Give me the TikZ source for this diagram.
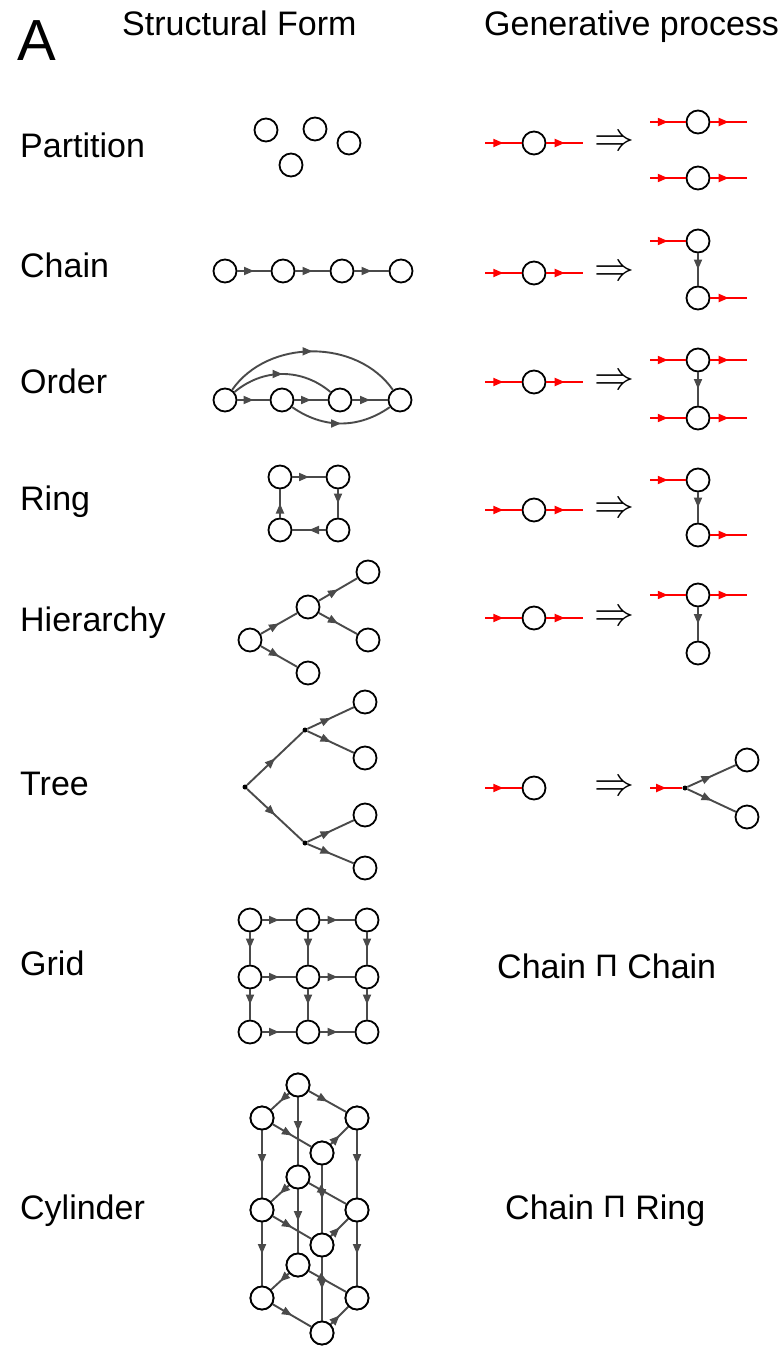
\RequirePackage{fix-cm}
\documentclass[tikz,border=0pt]{standalone}
\usepackage{fontspec}
\setmainfont{Liberation Sans}
\usetikzlibrary{decorations.markings,arrows.meta}
\definecolor{edgegray}{HTML}{4A4A4A}
\begin{document}
\begin{tikzpicture}[x=1pt,y=-1pt,
  nd/.style={circle,draw=black,line width=1.8pt,minimum size=23pt,inner sep=0pt,fill=white},
  dt/.style={circle,fill=black,minimum size=5pt,inner sep=0pt},
  midarr/.style={postaction={decorate},decoration={markings,mark=at position #1 with {\arrow{Triangle[length=10pt,width=8pt]}}}},
  midarr/.default=0.5,
  ed/.style={draw=edgegray,line width=1.9pt,midarr},
  rl/.style={draw=red,line width=1.9pt,midarr},
  lbl/.style={anchor=base west,inner sep=0pt,font=\fontsize{34}{40}\selectfont},
  impl/.style={inner sep=0pt,font=\fontsize{40}{44}\selectfont},
]
\useasboundingbox (0,0) rectangle (782,1346);

% headers
\node[anchor=base west,inner sep=0pt,font=\fontsize{58}{64}\selectfont] (A) at (17,60) {A};
\node[lbl] (hSF) at (122,36) {Structural Form};
\node[lbl] (hGP) at (484,36) {Generative process};

% row labels
\node[lbl] (lPart) at (20,157) {Partition};
\node[lbl] (lChain) at (20,277) {Chain};
\node[lbl] (lOrder) at (20,393) {Order};
\node[lbl] (lRing) at (20,510) {Ring};
\node[lbl] (lHier) at (20,631) {Hierarchy};
\node[lbl] (lTree) at (20,795) {Tree};
\node[lbl] (lGrid) at (20,975) {Grid};
\node[lbl] (lCyl) at (20,1219) {Cylinder};

% ---------- Partition
\node[nd] (p1) at (266,130) {};
\node[nd] (p2) at (315,129) {};
\node[nd] (p3) at (349,143) {};
\node[nd] (p4) at (291,165) {};

% ---------- Chain
\node[nd] (c1) at (225,271) {};
\node[nd] (c2) at (283,271) {};
\node[nd] (c3) at (342,271) {};
\node[nd] (c4) at (401,271) {};
\draw[ed] (c1) -- (c2);
\draw[ed] (c2) -- (c3);
\draw[ed] (c3) -- (c4);

% ---------- Order
\node[nd] (o1) at (225,400) {};
\node[nd] (o2) at (282,400) {};
\node[nd] (o3) at (340,400) {};
\node[nd] (o4) at (400,400) {};
\draw[ed] (o1) -- (o2);
\draw[ed] (o2) -- (o3);
\draw[ed] (o3) -- (o4);
\draw[ed] (o1) to[out=55,in=125] (o4);
\draw[ed] (o1) to[out=40,in=140] (o3);
\draw[ed] (o2) to[out=-35,in=-145] (o4);

% ---------- Ring
\node[nd] (r1) at (280,477) {};
\node[nd] (r2) at (338,477) {};
\node[nd] (r3) at (338,530) {};
\node[nd] (r4) at (280,530) {};
\draw[ed] (r1) -- (r2);
\draw[ed] (r2) -- (r3);
\draw[ed] (r3) -- (r4);
\draw[ed] (r4) -- (r1);

% ---------- Hierarchy
\node[nd] (h1) at (250,640) {};
\node[nd] (h2) at (308,607) {};
\node[nd] (h3) at (368,572) {};
\node[nd] (h4) at (368,640) {};
\node[nd] (h5) at (308,673) {};
\draw[ed] (h1) -- (h2);
\draw[ed] (h2) -- (h3);
\draw[ed] (h2) -- (h4);
\draw[ed] (h1) -- (h5);

% ---------- Tree
\node[dt] (t0) at (245,787) {};
\node[dt] (t1) at (305,730) {};
\node[dt] (t2) at (305,843) {};
\node[nd] (t3) at (365,702) {};
\node[nd] (t4) at (365,758) {};
\node[nd] (t5) at (365,815) {};
\node[nd] (t6) at (365,868) {};
\draw[ed] (t0) -- (t1);
\draw[ed] (t0) -- (t2);
\draw[ed] (t1) -- (t3);
\draw[ed] (t1) -- (t4);
\draw[ed] (t2) -- (t5);
\draw[ed] (t2) -- (t6);

% ---------- Grid
\foreach \c/\x in {1/250,2/308,3/367}{
  \foreach \r/\y in {1/920,2/977,3/1032}{
    \node[nd] (g\r\c) at (\x,\y) {};
  }
}
\foreach \r in {1,2,3}{
  \draw[ed] (g\r1) -- (g\r2);
  \draw[ed] (g\r2) -- (g\r3);
}
\foreach \c in {1,2,3}{
  \draw[ed] (g1\c) -- (g2\c);
  \draw[ed] (g2\c) -- (g3\c);
}

% ---------- Cylinder
\foreach \k/\dy in {1/0,2/92,3/180}{
  \node[nd] (yb\k) at (298,1085+\dy) {};
  \node[nd] (yl\k) at (262,1118+\dy) {};
  \node[nd] (yr\k) at (357,1118+\dy) {};
  \node[nd] (yf\k) at (322,1153+\dy) {};
}
\foreach \k in {1,2,3}{
  \draw[ed] (yb\k) -- (yl\k);
  \draw[ed] (yb\k) -- (yr\k);
  \draw[ed] (yl\k) -- (yf\k);
  \draw[ed] (yf\k) -- (yr\k);
}
\foreach \a/\b in {1/2,2/3}{
  \draw[ed] (yb\a) -- (yb\b);
  \draw[ed] (yl\a) -- (yl\b);
  \draw[ed] (yr\a) -- (yr\b);
  \draw[ed] (yf\a) -- (yf\b);
}
% redraw nodes on top
\foreach \k/\dy in {1/0,2/92,3/180}{
  \node[nd] at (yb\k) {};
  \node[nd] at (yl\k) {};
  \node[nd] at (yr\k) {};
  \node[nd] at (yf\k) {};
}

% ---------- Generative process
\foreach \n/\y in {1/143,2/273,3/382,4/510,5/618}{
  \coordinate (Lin\n) at (485,\y);
  \node[nd] (L\n) at (534,\y) {};
  \coordinate (Lout\n) at (583,\y);
  \draw[rl] (Lin\n) -- (L\n);
  \draw[rl] (L\n) -- (Lout\n);
  \node[impl] (I\n) at (614,\y) {$\Rightarrow$};
}
% Partition right
\node[nd] (PA) at (698,122) {};
\node[nd] (PB) at (698,178) {};
\coordinate (PAi) at (650,122); \coordinate (PAo) at (747,122);
\coordinate (PBi) at (650,178); \coordinate (PBo) at (747,178);
\draw[rl] (PAi) -- (PA); \draw[rl] (PA) -- (PAo);
\draw[rl] (PBi) -- (PB); \draw[rl] (PB) -- (PBo);

% Chain right
\node[nd] (CA) at (698,241) {};
\node[nd] (CB) at (698,298) {};
\coordinate (CAi) at (650,241); \coordinate (CBo) at (747,298);
\draw[ed] (CA) -- (CB);
\draw[rl] (CAi) -- (CA); \draw[rl] (CB) -- (CBo);

% Order right
\node[nd] (OA) at (698,360) {};
\node[nd] (OB) at (698,418) {};
\coordinate (OAi) at (650,360); \coordinate (OAo) at (747,360);
\coordinate (OBi) at (650,418); \coordinate (OBo) at (747,418);
\draw[ed] (OA) -- (OB);
\draw[rl] (OAi) -- (OA); \draw[rl] (OA) -- (OAo);
\draw[rl] (OBi) -- (OB); \draw[rl] (OB) -- (OBo);

% Ring right
\node[nd] (RA) at (698,480) {};
\node[nd] (RB) at (698,535) {};
\coordinate (RAi) at (650,480); \coordinate (RBo) at (747,535);
\draw[ed] (RA) -- (RB);
\draw[rl] (RAi) -- (RA); \draw[rl] (RB) -- (RBo);

% Hierarchy right
\node[nd] (HA) at (698,595) {};
\node[nd] (HB) at (698,653) {};
\coordinate (HAi) at (650,595); \coordinate (HAo) at (747,595);
\draw[ed] (HA) -- (HB);
\draw[rl] (HAi) -- (HA); \draw[rl] (HA) -- (HAo);

% Tree process
\coordinate (TLin) at (485,788);
\node[nd] (TL) at (534,788) {};
\draw[rl] (TLin) -- (TL);
\node[impl] (I6) at (614,788) {$\Rightarrow$};
\coordinate (TRin) at (650,788);
\node[dt] (TR0) at (685,788) {};
\node[nd] (TR1) at (747,760) {};
\node[nd] (TR2) at (747,817) {};
\draw[rl] (TRin) -- (TR0);
\draw[ed] (TR0) -- (TR1);
\draw[ed] (TR0) -- (TR2);

% Products
\node[lbl] (PG) at (497,978) {Chain {\fontsize{31}{34}\selectfont\raisebox{2pt}{Π}} Chain};
\node[lbl] (PC) at (505,1219) {Chain {\fontsize{31}{34}\selectfont\raisebox{2pt}{Π}} Ring};
\end{tikzpicture}
\end{document}
